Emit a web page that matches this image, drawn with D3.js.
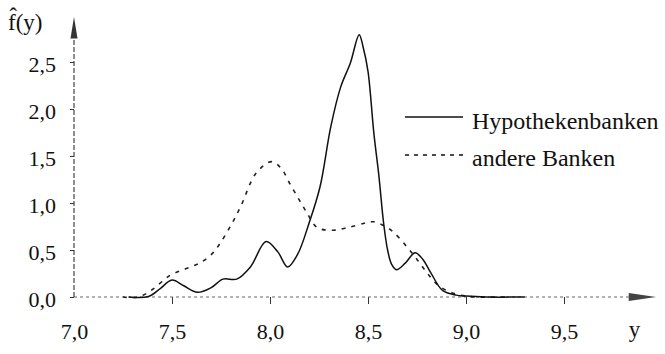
<!DOCTYPE html>
<html>
<head>
<meta charset="utf-8">
<script src="https://cdn.jsdelivr.net/npm/d3@7"></script>
<style>
	body { margin: 0; background: #fff; }
	svg { display: block; }
</style>
</head>
<body>
<div id="chart"></div>
<script>
// values (x = y, value = f^(y))
const hypoX = [7.28, 7.38, 7.44, 7.50, 7.56, 7.63, 7.70, 7.76, 7.83, 7.90, 7.98, 8.04, 8.09, 8.14, 8.20, 8.255, 8.31, 8.36, 8.41, 8.455, 8.475, 8.50, 8.53, 8.555, 8.58, 8.60, 8.62, 8.645, 8.69, 8.74, 8.78, 8.82, 8.88, 8.95, 9.00, 9.10, 9.30];
const hypoY = [0, 0.005, 0.09, 0.18, 0.12, 0.05, 0.10, 0.19, 0.19, 0.32, 0.59, 0.48, 0.32, 0.45, 0.79, 1.17, 1.81, 2.23, 2.49, 2.79, 2.66, 2.40, 1.74, 1.30, 0.78, 0.50, 0.35, 0.29, 0.36, 0.47, 0.40, 0.26, 0.07, 0.02, 0.01, 0, 0];
const andereX = [7.25, 7.33, 7.40, 7.49, 7.57, 7.64, 7.70, 7.745, 7.80, 7.85, 7.93, 8.01, 8.06, 8.10, 8.15, 8.19, 8.24, 8.32, 8.40, 8.49, 8.53, 8.58, 8.63, 8.70, 8.75, 8.80, 8.85, 8.90, 8.95, 9.00, 9.05, 9.20];
const andereY = [0, 0, 0.08, 0.23, 0.30, 0.36, 0.45, 0.57, 0.76, 0.96, 1.32, 1.44, 1.36, 1.21, 1.03, 0.89, 0.74, 0.71, 0.74, 0.79, 0.80, 0.76, 0.69, 0.53, 0.40, 0.26, 0.14, 0.07, 0.03, 0.01, 0, 0];
const xTicks = [7.0, 7.5, 8.0, 8.5, 9.0, 9.5];
const yTicks = [0.0, 0.5, 1.0, 1.5, 2.0, 2.5];
const seriesNames = ["Hypothekenbanken", "andere Banken"];

const width = 665, height = 354;
const serif = "Liberation Serif";
const fmt = d => d.toFixed(1).replace(".", ",");

const svg = d3.select("#chart").append("svg")
	.attr("width", width)
	.attr("height", height);

const x = d3.scaleLinear().domain([7, 10]).range([74, 662]);
const y = d3.scaleLinear().domain([0, 2.5]).range([297, 62]);

// X axis (dotted base line, ticks downwards)
const xAxis = svg.append("g")
	.attr("transform", "translate(0," + y(0) + ")")
	.call(d3.axisBottom(x).tickValues(xTicks).tickFormat(fmt).tickSize(7).tickPadding(19));
xAxis.select(".domain").remove();
xAxis.selectAll(".tick line").attr("stroke", "#333").attr("stroke-width", 1)
	.filter(d => d === 7.0).remove();
xAxis.selectAll(".tick text").attr("font-size", 22);
svg.append("line")
	.attr("x1", x(7)).attr("x2", x(9.83))
	.attr("y1", y(0)).attr("y2", y(0))
	.attr("stroke", "#666").attr("stroke-width", 1.2)
	.attr("stroke-dasharray", "3,3");
svg.append("path")
	.attr("d", `M${x(9.83)},${y(0) - 4}L${x(9.97)},${y(0)}L${x(9.83)},${y(0) + 4}Z`)
	.attr("fill", "#444");
svg.append("text")
	.attr("x", x(9.86)).attr("y", 337)
	.attr("text-anchor", "middle")
	.attr("font-size", 23)
	.text("y");

// Y axis (dashed vertical line with arrow)
const yAxis = svg.append("g")
	.attr("transform", "translate(" + x(7) + ",0)")
	.call(d3.axisLeft(y).tickValues(yTicks).tickFormat(fmt).tickSize(4).tickPadding(14));
yAxis.select(".domain").remove();
yAxis.selectAll(".tick line").attr("stroke", "#333");
yAxis.selectAll(".tick text").attr("font-size", 22).attr("dy", "0.45em");
svg.append("line")
	.attr("x1", x(7)).attr("x2", x(7))
	.attr("y1", y(0)).attr("y2", y(2.75))
	.attr("stroke", "#444").attr("stroke-width", 1.2)
	.attr("stroke-dasharray", "5,2");
svg.append("path")
	.attr("d", `M${x(7) - 3.5},${y(2.75)}L${x(7)},${y(2.98)}L${x(7) + 3.5},${y(2.75)}Z`)
	.attr("fill", "#333");
svg.append("text")
	.attr("x", 8).attr("y", 30)
	.attr("font-size", 23)
	.text("f\u0302(y)");

// curves
const line = d3.line()
	.x(d => x(d[0]))
	.y(d => y(d[1]))
	.curve(d3.curveCatmullRom.alpha(0.5));

svg.append("path")
	.datum(d3.zip(andereX, andereY))
	.attr("fill", "none")
	.attr("stroke", "#222")
	.attr("stroke-width", 1.6)
	.attr("stroke-dasharray", "4,6")
	.attr("d", line);

svg.append("path")
	.datum(d3.zip(hypoX, hypoY))
	.attr("fill", "none")
	.attr("stroke", "#111")
	.attr("stroke-width", 1.5)
	.attr("d", line);

// legend
const legend = svg.append("g").attr("transform", "translate(405,0)");
const legendRows = [
	{ name: seriesNames[0], dash: null, yLine: 117, yText: 129 },
	{ name: seriesNames[1], dash: "4,5", yLine: 155, yText: 166 }
];
legendRows.forEach(r => {
	legend.append("line")
		.attr("x1", 0).attr("x2", 58)
		.attr("y1", r.yLine).attr("y2", r.yLine)
		.attr("stroke", "#111").attr("stroke-width", 1.5)
		.attr("stroke-dasharray", r.dash);
	legend.append("text")
		.attr("x", 67).attr("y", r.yText)
		.attr("font-size", 24)
		.text(r.name);
});

svg.selectAll("text")
	.style("font-family", serif)
	.style("fill", "#111");
</script>
</body>
</html>
